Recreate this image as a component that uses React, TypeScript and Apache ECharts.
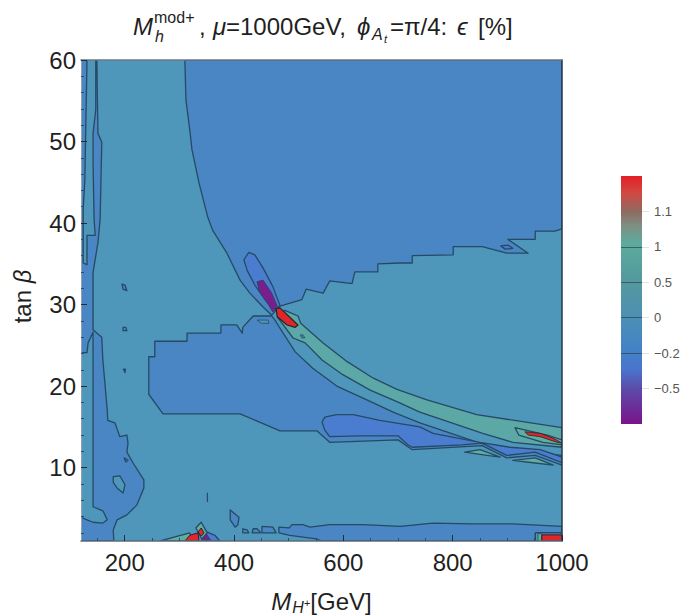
import React, { useEffect, useRef } from "react";
import * as echarts from "echarts";

type P = number[][];

const xMajor = [200, 400, 600, 800, 1000];
const xMinor = [150, 250, 300, 350, 450, 500, 550, 650, 700, 750, 850, 900, 950];
const yMajor = [10, 20, 30, 40, 50, 60];
const yMinor = [2, 4, 6, 8, 12, 14, 16, 18, 22, 24, 26, 28, 32, 34, 36, 38, 42, 44, 46, 48, 52, 54, 56, 58];
const barLabels = ["", "−0.5", "−0.2", "0", "0.5", "1", "1.1", ""];
const barTicks = [1, 2, 3, 4, 5, 6];

const TEAL = "#4f96bb";
const BLUE = "#4a85c4";
const DEEP = "#4a7dd0";
const GREEN = "#5ca8a6";
const LIGHT = "#5fae9f";
const RED = "#e2252b";
const PURPLE = "#7a1e8e";
const LINE = "#264a64";
const DARK = "#1c2a30";

const base: P = [[120, 60], [1000, 60], [1000, 1], [120, 1]];
const upperBlue: P = [[310, 60], [1000, 60], [1000, 39.3], [987, 39], [951, 39], [951, 38], [901, 38], [938, 36.3], [899, 36.3], [854, 37.1], [801, 37.1], [801, 36.1], [726, 36], [726, 35.1], [704, 35.1], [663, 35], [663, 34], [621, 34], [616, 32.6], [612, 32.6], [575, 32.9], [563, 31.4], [532, 31.9], [524, 30.6], [484, 29.8], [469, 28.7], [453, 29.7], [429, 31.4], [411, 33], [387, 36.3], [361, 39.1], [352, 40.7], [336, 44.9], [323, 49], [319, 51.4], [312, 55.1]];
const lowerBlue: P = [[244, 23.6], [255, 23.6], [255, 25.5], [314, 25.5], [314, 26.5], [376, 26.5], [376, 27.5], [405, 27.5], [415, 26.5], [416, 27.2], [435, 28.6], [469, 28.6], [475, 28.1], [484, 27.1], [512, 24.2], [544, 22.2], [588, 20], [643, 18.3], [691, 16.8], [740, 15.5], [850, 13], [905, 12.2], [1000, 11.5], [1000, 10.3], [951, 11.5], [899, 11.2], [854, 12.7], [726, 12.2], [700, 13.4], [575, 13.1], [552, 14.5], [484, 14.5], [411, 16.6], [270, 16.6], [244, 19]];
const deepBand: P = [[561, 15.6], [566, 16.2], [588, 16.5], [618, 16.5], [667, 15.8], [740, 15], [764, 14.2], [850, 13.1], [905, 12.5], [960, 12.2], [1000, 11.3], [1000, 10.6], [951, 11.9], [899, 11.5], [854, 13], [817, 12.8], [726, 12.5], [718, 12.8], [700, 13.9], [630, 13.9], [575, 13.8], [566, 14.6]];
const greenBand: P = [[480, 28.4], [508, 25.9], [530, 25.3], [561, 23.2], [599, 21.4], [649, 19.5], [698, 18.1], [740, 16.8], [855, 14.2], [910, 13.1], [1000, 12.5], [1000, 14.9], [844, 16.5], [753, 18.3], [698, 19.6], [654, 21], [607, 23], [563, 25.3], [522, 27.7], [517, 28.6], [493, 29.3]];
const ellipse: P = [[427, 36.4], [438, 36.1], [453, 34.5], [471, 32.2], [484, 29.9], [475, 29.3], [460, 30.3], [438, 32.4], [424, 34.2], [418, 35.5]];
const purpleCore: P = [[442, 32.8], [453, 33], [469, 31.4], [479, 29.8], [471, 29.1], [460, 30.3], [447, 31.5]];
const redRidge: P = [[477, 29.5], [484, 29.6], [517, 27.5], [512, 27.2], [497, 27.5], [479, 28.5]];
const lightRight: P = [[914, 14.9], [973, 14], [1000, 13.4], [1000, 12.8], [965, 13.1], [921, 14]];
const redRight: P = [[932, 14.4], [960, 14.2], [984, 13.6], [1000, 13], [991, 13.1], [960, 13.8], [938, 14]];
const lensA: P = [[822, 11.9], [850, 12.2], [887, 11.3], [863, 11.5]];
const lensB: P = [[910, 10.9], [951, 11.2], [984, 10.3], [947, 10.6]];
const lensStairs: P = [[888, 37.2], [901, 37.3], [910, 36.9], [896, 36.8]];
const lensRidge: P = [[521, 26.3], [526, 26.3], [530, 25.9], [524, 25.9]];
const lensBlock: P = [[442, 28.1], [462, 28.1], [464, 27.7], [450, 27.7]];
const leftBlue: P = [[120, 60], [131, 60], [129, 52.6], [127, 45.3], [124, 41.6], [124, 35.1], [131, 34.9], [131, 38.5], [146, 38.5], [144, 40.4], [142, 47.4], [142, 51], [147, 53.9], [147, 60], [149, 60], [151, 51], [158, 49.9], [155, 40.4], [151, 37.6], [142, 33.9], [142, 26.9], [158, 26], [160, 23.2], [168, 17.1], [169, 15.8], [182, 15.5], [191, 13.8], [204, 14], [206, 13], [204, 11.9], [215, 10.6], [235, 8.5], [235, 7.5], [222, 5.4], [204, 4.2], [186, 3.6], [179, 2.35], [180, 1], [120, 1]];
const leftPocket: P = [[120, 24.1], [131, 24.1], [133, 25.3], [142, 26.6], [142, 5.2], [160, 4.7], [168, 3.6], [160, 3.2], [142, 3.3], [131, 3.6], [120, 3.9]];
const islandA: P = [[179, 8.9], [191, 9], [200.5, 7.9], [197, 6.9], [186, 7.5], [179, 8.2]];
const islandB: P = [[199, 11.2], [206, 10.9], [202, 10.7]];
const dotA: P = [[195, 32.5], [200.5, 32.4], [204, 31.7], [197, 31.9]];
const dotB: P = [[197, 27.2], [202, 27.2], [204, 26.8], [197, 26.8]];
const dotC: P = [[197, 22.1], [202, 22.1], [200.5, 21.6]];
const dotD: P = [[351, 6.9], [351.5, 6.9], [351.5, 5.8], [351, 5.8]];
const pocketA: P = [[393, 4.8], [409, 3.9], [407, 3], [402, 2.7], [393, 3.6]];
const pocketB: P = [[416, 2.5], [424, 2.35], [427, 2], [416, 2]];
const pocketC: P = [[435, 2.5], [442, 2.5], [449, 2], [433, 2]];
const pocketD: P = [[451, 2.8], [471, 2.7], [477, 2], [451, 2]];
const bottomBand: P = [[482, 2.7], [501, 2.6], [506, 3], [526, 3], [539, 2.7], [575, 3], [636, 3], [704, 2.8], [764, 3.2], [837, 3.1], [910, 3.1], [1000, 2.8], [1000, 1], [561, 1], [550, 1.25], [502, 1.7], [482, 2]];
const cornerTeal: P = [[951, 2], [1000, 2], [1000, 1], [951, 1]];
const cornerGreen: P = [[956, 1.9], [963, 1.9], [963, 1], [956, 1]];
const cornerRed: P = [[963, 1.75], [1000, 1.75], [1000, 1], [963, 1]];
const wedge: P = [[265, 1], [319, 2], [323, 1]];
const footBlue: P = [[351, 2.1], [365, 1.7], [374, 1], [341, 1], [345, 2]];
const footGreen: P = [[340, 3.3], [345, 2.7], [351, 2], [341, 1.25], [330, 2.6]];
const footRedBase: P = [[310, 1], [319, 1.7], [334, 2], [336, 1]];
const footRedTop: P = [[340, 2.6], [345, 2], [340, 1.6], [334, 2.1]];
const footPurple: P = [[349, 1.9], [358, 1], [341, 1]];

const W = 1.3;
const layers: [P, string, string, number][] = [
  [base, TEAL, "none", 0],
  [upperBlue, BLUE, LINE, W],
  [lowerBlue, BLUE, LINE, W],
  [deepBand, DEEP, LINE, W],
  [greenBand, GREEN, LINE, W],
  [ellipse, DEEP, LINE, W],
  [purpleCore, PURPLE, LINE, 1],
  [redRidge, RED, DARK, 1.2],
  [lightRight, LIGHT, LINE, W],
  [redRight, RED, DARK, 0.8],
  [lensA, LIGHT, LINE, W],
  [lensB, LIGHT, LINE, W],
  [lensStairs, DEEP, LINE, W],
  [lensRidge, "#3f7f8a", LINE, 0.6],
  [lensBlock, TEAL, LINE, 0.8],
  [leftBlue, BLUE, LINE, W],
  [leftPocket, TEAL, LINE, W],
  [islandA, TEAL, LINE, W],
  [islandB, TEAL, LINE, W],
  [dotA, BLUE, LINE, W],
  [dotB, BLUE, LINE, W],
  [dotC, LINE, LINE, 0.8],
  [dotD, LINE, LINE, 0.8],
  [pocketA, BLUE, LINE, W],
  [pocketB, BLUE, LINE, W],
  [pocketC, BLUE, LINE, W],
  [pocketD, BLUE, LINE, W],
  [bottomBand, BLUE, LINE, W],
  [cornerTeal, TEAL, DARK, 1],
  [cornerGreen, LIGHT, LINE, 0.8],
  [cornerRed, RED, DARK, 1],
  [wedge, LIGHT, LINE, W],
  [footBlue, DEEP, LINE, W],
  [footGreen, LIGHT, LINE, W],
  [footRedBase, RED, DARK, 1],
  [footRedTop, RED, DARK, 1],
  [footPurple, PURPLE, LINE, 1],
];

const FONT = "Liberation Sans";
const INK = "#1f1f1f";

function txt(text: string, x: number, baseline: number, size: number, italic = false) {
  return {
    type: "text",
    x,
    y: baseline - 0.35 * size,
    silent: true,
    style: {
      text,
      fill: INK,
      font: `${italic ? "italic " : ""}${size}px "${FONT}"`,
      align: "left",
      verticalAlign: "middle",
    },
  };
}

export default function App() {
  const ref = useRef<HTMLDivElement>(null);
  useEffect(() => {
    const chart = echarts.init(ref.current!, null, { renderer: "svg" });
    const contour = layers.map(([pts, fill, stroke, lw]) => ({
      type: "custom",
      coordinateSystem: "cartesian2d",
      xAxisIndex: 0,
      yAxisIndex: 0,
      silent: true,
      clip: true,
      data: pts,
      encode: { x: 0, y: 1 },
      renderItem: (params: any, api: any) => {
        if (params.dataIndex !== 0) return null;
        return {
          type: "polygon",
          shape: { points: pts.map((p) => api.coord(p)) },
          style: { fill, stroke, lineWidth: lw, lineJoin: "round" },
        };
      },
    }));
    const colorbar = {
      type: "custom",
      coordinateSystem: "cartesian2d",
      xAxisIndex: 3,
      yAxisIndex: 3,
      silent: true,
      data: [[0, 0], [1, 7]],
      encode: { x: 0, y: 1 },
      renderItem: (params: any, api: any) => {
        if (params.dataIndex !== 0) return null;
        const a = api.coord([0, 7]);
        const b = api.coord([1, 0]);
        return {
          type: "rect",
          shape: { x: a[0], y: a[1], width: b[0] - a[0], height: b[1] - a[1] },
          style: {
            fill: new echarts.graphic.LinearGradient(0, 0, 0, 1, [
              { offset: 0, color: "#e41f26" },
              { offset: 0.07, color: "#cf4a44" },
              { offset: 0.143, color: "#8f6a60" },
              { offset: 0.2, color: "#7e8f82" },
              { offset: 0.27, color: "#5cab9c" },
              { offset: 0.43, color: "#54989e" },
              { offset: 0.57, color: "#4c8fb5" },
              { offset: 0.71, color: "#4381c8" },
              { offset: 0.78, color: "#4a74cc" },
              { offset: 0.86, color: "#5c4aa8" },
              { offset: 1, color: "#7a148a" },
            ]),
          },
        };
      },
    };
    const noAxis = { axisLabel: { show: false }, axisTick: { show: false }, splitLine: { show: false } };
    chart.setOption({
      animation: false,
      backgroundColor: "#ffffff",
      grid: [
        { left: 81, top: 60, width: 481, height: 481, outerBoundsMode: "none" },
        { left: 621, top: 176, width: 21, height: 248, outerBoundsMode: "none" },
      ],
      xAxis: [
        {
          type: "value", gridIndex: 0, min: 120, max: 1000, position: "bottom", z: 10,
          axisLine: { show: true, onZero: false, lineStyle: { color: "#5b6b7a", width: 1.5 } },
          axisTick: { show: true, inside: true, length: 6, customValues: xMajor, lineStyle: { color: "#1f2d3a" } },
          axisLabel: { show: true, customValues: xMajor, fontFamily: FONT, fontSize: 24, color: INK, margin: 9, formatter: (v: number) => String(v) },
          splitLine: { show: false },
          name: "{m|M}{h|H}{p|+}{g|[GeV]}",
          nameLocation: "middle",
          nameGap: 46,
          nameTextStyle: {
            rich: {
              m: { fontFamily: FONT, fontStyle: "italic", fontSize: 24, color: INK },
              h: { fontFamily: FONT, fontStyle: "italic", fontSize: 16, color: INK, padding: [12, 0, 0, 1] },
              p: { fontFamily: FONT, fontSize: 11, color: INK, padding: [4, 0, 0, 0] },
              g: { fontFamily: FONT, fontSize: 24, color: INK },
            },
          },
        },
        {
          type: "value", gridIndex: 0, min: 120, max: 1000, position: "bottom", z: 10,
          axisLine: { show: false, onZero: false },
          axisTick: { show: true, inside: true, length: 3, customValues: xMinor, lineStyle: { color: "#2b4f6b" } },
          axisLabel: { show: false, customValues: xMinor },
          splitLine: { show: false },
        },
        {
          type: "value", gridIndex: 0, min: 120, max: 1000, position: "top", z: 10,
          axisLine: { show: true, onZero: false, lineStyle: { color: "#6b7a88", width: 1.5 } },
          ...noAxis,
        },
        {
          type: "value", gridIndex: 1, min: 0, max: 1, show: false,
        },
      ],
      yAxis: [
        {
          type: "value", gridIndex: 0, min: 1, max: 60, position: "left", z: 10,
          axisLine: { show: true, onZero: false, lineStyle: { color: "#8fa3b5", width: 1 } },
          axisTick: { show: true, inside: true, length: 6, customValues: yMajor, lineStyle: { color: "#1f2d3a" } },
          axisLabel: { show: true, customValues: yMajor, fontFamily: FONT, fontSize: 24, color: INK, margin: 5 },
          splitLine: { show: false },
          name: "tan {b|β}",
          nameLocation: "middle",
          nameGap: 47,
          nameRotate: 90,
          nameTextStyle: {
            fontFamily: FONT, fontSize: 24, color: INK, padding: [0, 0, 0, 8],
            rich: { b: { fontFamily: FONT, fontStyle: "italic", fontSize: 24, color: INK } },
          },
        },
        {
          type: "value", gridIndex: 0, min: 1, max: 60, position: "left", z: 10,
          axisLine: { show: false, onZero: false },
          axisTick: { show: true, inside: true, length: 3, customValues: yMinor, lineStyle: { color: "#2b4f6b" } },
          axisLabel: { show: false, customValues: yMinor },
          splitLine: { show: false },
        },
        {
          type: "value", gridIndex: 0, min: 1, max: 60, position: "right", z: 10,
          axisLine: { show: true, onZero: false, lineStyle: { color: "#26394a", width: 1.5 } },
          ...noAxis,
        },
        {
          type: "value", gridIndex: 1, min: 0, max: 7, position: "right", z: 10,
          axisLine: { show: false, onZero: false },
          axisTick: { show: true, length: 7, customValues: barTicks, lineStyle: { color: "#e2e2e2" } },
          axisLabel: {
            show: true, customValues: barTicks, fontFamily: FONT, fontSize: 13, color: "#555555", margin: 12,
            formatter: (v: number) => barLabels[v] ?? "",
          },
          splitLine: { show: true, showMinLine: false, showMaxLine: false, lineStyle: { color: "#33404a", width: 1, opacity: 0.7 } },
        },
      ],
      series: [...contour, colorbar],
      graphic: [
        txt("M", 133, 35, 24, true),
        txt("mod+", 154, 23, 16),
        txt("h", 155, 42, 16, true),
        txt(",", 199, 35, 24),
        txt("μ", 213, 35, 24, true),
        txt("=1000GeV,", 226, 35, 24),
        txt("ϕ", 357, 35, 24, true),
        txt("A", 372, 40, 16, true),
        txt("t", 384, 43, 11, true),
        txt("=π/4:", 390, 35, 24),
        txt("ϵ", 457, 35, 24, true),
        txt("[%]", 478, 35, 24),
      ],
    });
    return () => chart.dispose();
  }, []);
  return <div ref={ref} style={{ position: "absolute", left: 0, top: 0, width: 681, height: 615 }} />;
}
